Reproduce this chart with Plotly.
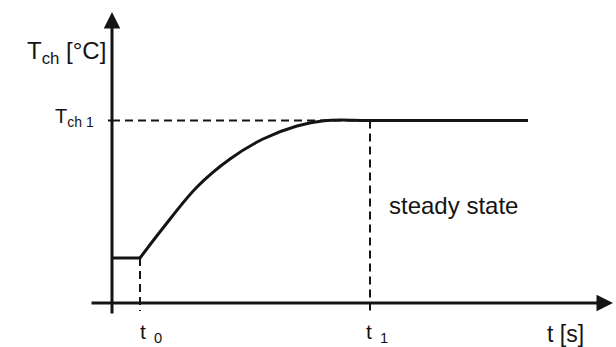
import plotly.graph_objects as go

# time / temperature in drawing units (origin where the axes cross)
t0 = 28
t1 = 258
t_end = 416
T_start = 45
T_ch1 = 182.5

# rising part of the response
rise_t = [28, 51, 85, 118, 151, 185, 212, 250]
rise_T = [45, 75, 116, 144, 164, 177, 182.3, 182.5]

# axis extents
x_axis = [-22, 501]
y_axis = [-12, 291]
drop_to = -8

INK = "#141414"
FONT = "Liberation Sans"

fig = go.Figure()

line = dict(color=INK, width=3)
dash = dict(color=INK, width=2, dash="8px,5px")

# dashed guides
fig.add_trace(go.Scatter(x=[0, t1], y=[T_ch1, T_ch1], mode="lines", line=dash))
fig.add_trace(go.Scatter(x=[t0, t0], y=[T_start, drop_to], mode="lines", line=dash))
fig.add_trace(go.Scatter(x=[t1, t1], y=[T_ch1, drop_to], mode="lines", line=dash))

# response: flat start, rise, steady state
fig.add_trace(go.Scatter(x=[0, t0], y=[T_start, T_start], mode="lines", line=line))
fig.add_trace(go.Scatter(x=rise_t, y=rise_T, mode="lines",
                         line=dict(color=INK, width=3, shape="spline", smoothing=1.0)))
fig.add_trace(go.Scatter(x=[rise_t[-1], t_end], y=[T_ch1, T_ch1], mode="lines", line=line))

# small tick on the y axis at T_ch1
fig.add_trace(go.Scatter(x=[-4, 0], y=[T_ch1, T_ch1], mode="lines",
                         line=dict(color=INK, width=2)))

# axes with arrows
arrow = dict(showarrow=True, arrowhead=2, arrowsize=1.1, arrowwidth=3,
             arrowcolor=INK, axref="x", ayref="y", text="")
fig.add_annotation(x=x_axis[1], y=0, ax=x_axis[0], ay=0, **arrow)
fig.add_annotation(x=0, y=y_axis[1], ax=0, ay=y_axis[0], **arrow)

def label(text, x, y, size, xanchor="center"):
    fig.add_annotation(x=x, y=y, text=text, showarrow=False, xanchor=xanchor,
                       yanchor="middle", font=dict(family=FONT, size=size, color=INK))

label("T<sub>ch</sub> [°C]", -46, 251, 24)
label("T<sub>ch 1</sub>", -16, 186, 20, xanchor="right")
label("t<sub>  0</sub>", 39, -30, 21)
label("t<sub>  1</sub>", 265, -30, 21)
label("t [s]", 453, -31, 23)
label("steady state", 275, 98, 24, xanchor="left")

fig.update_layout(
    width=616, height=347,
    margin=dict(l=0, r=0, t=0, b=0),
    paper_bgcolor="white", plot_bgcolor="white",
    showlegend=False,
    xaxis=dict(range=[-112, 504], visible=False, fixedrange=True),
    yaxis=dict(range=[-44, 303], visible=False, fixedrange=True),
)

fig.write_html("out.html", config={"displayModeBar": False},
               post_script="document.body.style.margin='0';")
